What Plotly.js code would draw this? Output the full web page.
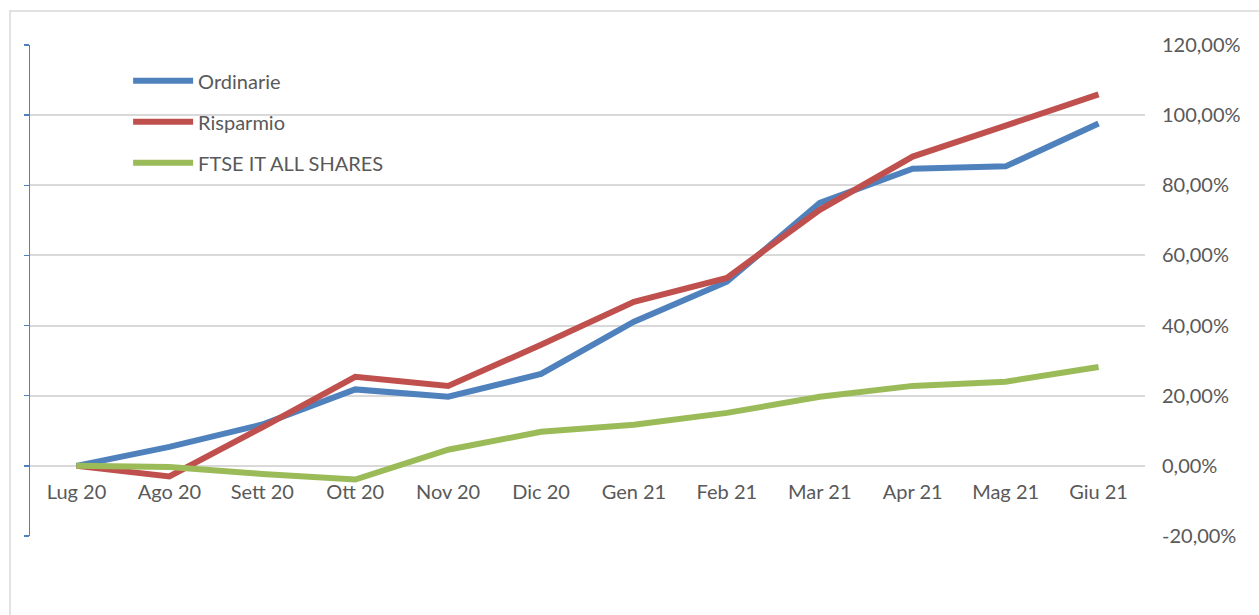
<!DOCTYPE html>
<html>
<head>
<meta charset="utf-8">
<script src="https://cdn.plot.ly/plotly-3.0.1.min.js"></script>
<style>
html,body{margin:0;padding:0;background:#fff;}
#chart{width:1259px;height:615px;}
</style>
</head>
<body>
<div id="chart"></div>
<script>
const months = ["Lug 20","Ago 20","Sett 20","Ott 20","Nov 20","Dic 20","Gen 21","Feb 21","Mar 21","Apr 21","Mag 21","Giu 21"];
const ordinarie = [0, 5.4, 11.8, 21.8, 19.7, 26.2, 41.1, 52.5, 75.0, 84.7, 85.4, 97.6];
const risparmio = [0, -3.0, 11.0, 25.4, 22.8, 34.5, 46.8, 53.6, 73.0, 88.2, 97.0, 105.9];
const ftse = [0, -0.3, -2.3, -3.9, 4.6, 9.7, 11.7, 15.1, 19.7, 22.8, 24.0, 28.2];
const yTicks = [-20, 0, 20, 40, 60, 80, 100, 120];
const yTickText = yTicks.map(v => v.toFixed(2).replace(".", ",") + "%");

const FONT = "Lato, 'Open Sans', sans-serif";
const TXT = "#595959";

const mk = (name, y, color, g, ax) => ({
  type: "scatter", mode: "lines", name: name, x: months, y: y, yaxis: ax,
  line: {color: color, width: 6}, legendgroup: g, hoverinfo: "skip"
});

const data = [
  mk("Ordinarie", ordinarie, "#4F81BD", "a", "y"),
  mk("Risparmio", risparmio, "#C0504D", "b", "y2"),
  mk("FTSE IT ALL SHARES", ftse, "#9BBB59", "c", "y2")
];

const layout = {
  width: 1259, height: 615,
  margin: {l: 30, r: 114, t: 45, b: 79},
  paper_bgcolor: "#fff", plot_bgcolor: "#fff",
  font: {family: FONT, size: 20, color: TXT},
  showlegend: true,
  legend: {
    x: 0.088, y: 0.967, xanchor: "left", yanchor: "top",
    font: {family: FONT, size: 20, color: TXT},
    bgcolor: "rgba(0,0,0,0)", tracegroupgap: 12, itemwidth: 60
  },
  xaxis: {
    type: "category", range: [-0.5, 11.5],
    anchor: "free", position: 1/7,
    showline: false, showgrid: false, zeroline: false, ticks: "",
    ticklabelstandoff: 12,
    tickfont: {family: FONT, size: 20, color: TXT}, fixedrange: true
  },
  yaxis: {
    range: [-20, 120], tickvals: yTicks, showticklabels: false,
    showline: true, linecolor: "#4F81BD", linewidth: 1.5,
    ticks: "outside", ticklen: 5, tickcolor: "#4F81BD", tickwidth: 1.5,
    showgrid: true, gridcolor: "#d9d9d9", gridwidth: 2, zeroline: false, fixedrange: true
  },
  yaxis2: {
    overlaying: "y", side: "right", range: [-20, 120],
    tickmode: "array", tickvals: yTicks, ticktext: yTickText,
    showgrid: false, zeroline: false,
    showline: false, ticks: "", ticklabelstandoff: 16,
    tickfont: {family: FONT, size: 20, color: TXT}, fixedrange: true
  },
  shapes: [{
    type: "rect", xref: "paper", yref: "paper",
    x0: -20/1115, x1: 1.3, y0: -0.4, y1: (536-11)/491,
    line: {color: "#d9d9d9", width: 1.5}, fillcolor: "rgba(0,0,0,0)", layer: "below"
  }]
};

Plotly.newPlot("chart", data, layout, {displayModeBar: false, staticPlot: true});
</script>
</body>
</html>
